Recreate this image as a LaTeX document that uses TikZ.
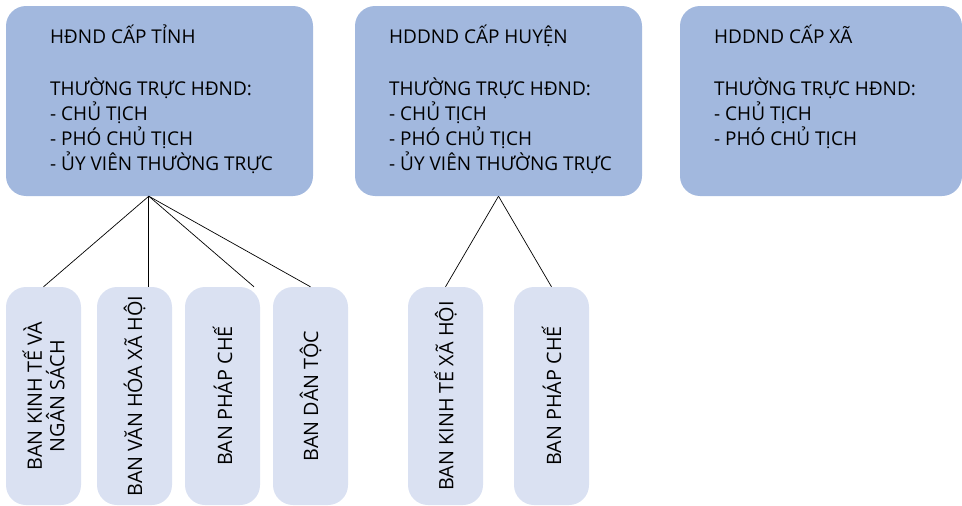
\documentclass[tikz,border=0pt]{standalone}
\usepackage{fontspec}
\setmainfont{Open Sans}
\usetikzlibrary{calc}
\definecolor{topfill}{RGB}{162,184,222}
\definecolor{subfill}{RGB}{218,225,242}
\begin{document}
\begin{tikzpicture}[x=1pt,y=-1pt,
  topbox/.style={fill=topfill,draw=none,rounded corners=20pt,minimum width=307pt,minimum height=190pt,inner sep=0pt},
  subbox/.style={fill=subfill,draw=none,rounded corners=20pt,minimum width=75pt,minimum height=218pt,inner sep=0pt},
  toptext/.style={anchor=north west,align=left,inner sep=0pt,font=\fontsize{19}{25}\selectfont},
  subtext/.style={rotate=90,align=center,inner sep=0pt,font=\fontsize{19.8}{22.5}\selectfont},
  link/.style={draw=black,line width=0.7pt}]
\useasboundingbox (0,0) rectangle (962,506);

% council boxes
\node[topbox] (tinh) at (159.5,101) {};
\node[topbox,minimum width=287pt] (huyen) at (498.5,101) {};
\node[topbox,minimum width=282pt] (xa) at (821,101) {};

\node[toptext] (tinhtxt) at (50,25) {HĐND CẤP TỈNH\\[27pt]THƯỜNG TRỰC HĐND:\\- CHỦ TỊCH\\- PHÓ CHỦ TỊCH\\- ỦY VIÊN THƯỜNG TRỰC};
\node[toptext] (huyentxt) at (389,25) {HDDND CẤP HUYỆN\\[27pt]THƯỜNG TRỰC HĐND:\\- CHỦ TỊCH\\- PHÓ CHỦ TỊCH\\- ỦY VIÊN THƯỜNG TRỰC};
\node[toptext] (xatxt) at (714,25) {HDDND CẤP XÃ\\[27pt]THƯỜNG TRỰC HĐND:\\- CHỦ TỊCH\\- PHÓ CHỦ TỊCH};

% committees
\node[subbox] (ktns) at (43.5,396) {};
\node[subbox] (vhxh) at (134.5,396) {};
\node[subbox] (pc1) at (222.5,396) {};
\node[subbox] (dt) at (310.5,396) {};
\node[subbox] (ktxh) at (445.5,396) {};
\node[subbox] (pc2) at (551.5,396) {};

\node[subtext] at (ktns) {BAN KINH TẾ VÀ\\NGÂN SÁCH};
\node[subtext] at (vhxh) {BAN VĂN HÓA XÃ HỘI};
\node[subtext] at (pc1) {BAN PHÁP CHẾ};
\node[subtext] at (dt) {BAN DÂN TỘC};
\node[subtext] at (ktxh) {BAN KINH TẾ XÃ HỘI};
\node[subtext] at (pc2) {BAN PHÁP CHẾ};

% connectors
\coordinate (hub) at ($(tinh.south west)+(143,0)$);
\draw[link] (hub) -- (ktns.north);
\draw[link] (hub) -- (hub |- vhxh.north);
\draw[link] (hub) -- ($(pc1.north)+(31.5,0)$);
\draw[link] (hub) -- (dt.north);
\draw[link] (huyen.south) -- (ktxh.north);
\draw[link] (huyen.south) -- (pc2.north);
\end{tikzpicture}
\end{document}
